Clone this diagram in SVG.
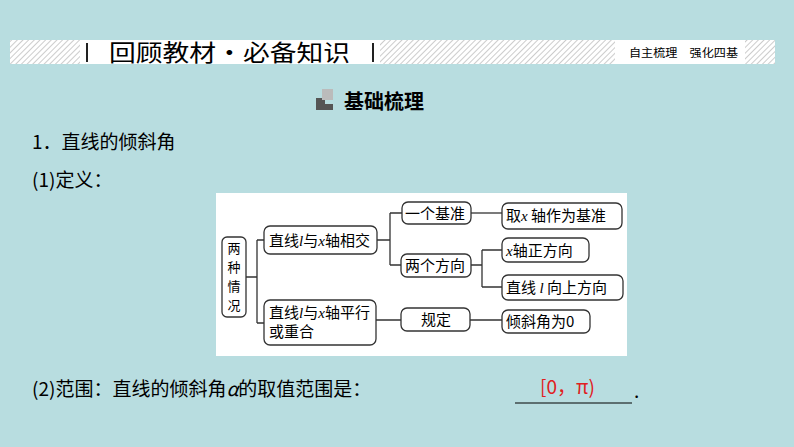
<svg xmlns="http://www.w3.org/2000/svg" width="794" height="447" viewBox="0 0 794 447">
<defs>
<pattern id="h" width="4" height="4" patternUnits="userSpaceOnUse" patternTransform="rotate(45)"><rect width="4" height="4" fill="#fff"/><line x1="0" y1="0" x2="0" y2="4" stroke="#bbb" stroke-width="1.5"/></pattern>
</defs>
<style>
text{font-family:"Noto Sans CJK SC","Liberation Serif",serif;fill:#000}
.n rect{fill:#fff;stroke:#333;stroke-width:1.3}
.n text{font-size:15px}
.c{fill:none;stroke:#333;stroke-width:1.3}
.b{font-size:19px}
</style>
<rect width="794" height="447" fill="#b8dde0"/>
<rect x="10" y="40" width="765" height="24" fill="url(#h)"/>
<rect x="80" y="40" width="300" height="24" fill="#fff"/>
<rect x="615" y="40" width="130" height="24" fill="#fff"/>
<rect x="86" y="43" width="2" height="19" fill="#222"/>
<rect x="372" y="43" width="2" height="19" fill="#222"/>
<text x="109" y="61" font-size="23" textLength="241" lengthAdjust="spacingAndGlyphs">回顾教材·必备知识</text>
<text x="629" y="57" font-size="11" textLength="109" lengthAdjust="spacingAndGlyphs">自主梳理　强化四基</text>
<rect x="316" y="98" width="9" height="11" fill="#555"/>
<rect x="322" y="89" width="11" height="11" fill="#bbb"/>
<rect x="316" y="104" width="17" height="6" fill="#555"/>
<text x="344" y="109" font-size="20" font-weight="bold">基础梳理</text>
<text x="32" y="149" class="b">1．直线的倾斜角</text>
<text x="32" y="187" class="b">(1)定义：</text>
<text x="32" y="396" class="b">(2)范围：直线的倾斜角<tspan font-style="italic">α</tspan>的取值范围是：</text>
<line x1="515" y1="403" x2="632" y2="403" stroke="#000" stroke-width="1"/>
<text x="540" y="394" font-size="19" style="fill:#e02020">[0，π)</text>
<text x="634" y="398" class="b">.</text>
<rect x="216" y="193" width="411" height="163" fill="#fff"/>
<g id="connectors" class="c">
<path d="M246 277H257M257 240V323M257 240H264M257 323H264"/>
<path d="M377 240H390M390 213V265M390 213H402M390 265H401"/>
<path d="M471 213H502"/>
<path d="M471 265H482M482 250V287M482 250H502M482 287H502"/>
<path d="M376 320H401M470 320H502"/>
</g>
<g id="n1" class="n"><rect x="222" y="237" width="24" height="80" rx="5"/><text x="227.5" y="253" style="font-size:13px">两</text><text x="227.5" y="272" style="font-size:13px">种</text><text x="227.5" y="291" style="font-size:13px">情</text><text x="227.5" y="310" style="font-size:13px">况</text></g>
<g id="n2" class="n"><rect x="264" y="226" width="113" height="28" rx="6"/><text x="269" y="246">直线<tspan font-style="italic" font-family="Liberation Serif">l</tspan>与<tspan font-style="italic" font-family="Liberation Serif">x</tspan>轴相交</text></g>
<g id="n3" class="n"><rect x="264" y="300" width="112" height="45" rx="6"/><text x="269" y="318">直线<tspan font-style="italic" font-family="Liberation Serif">l</tspan>与<tspan font-style="italic" font-family="Liberation Serif">x</tspan>轴平行</text><text x="269" y="337">或重合</text></g>
<g id="n4" class="n"><rect x="402" y="202" width="69" height="22" rx="6"/><text x="405" y="219">一个基准</text></g>
<g id="n5" class="n"><rect x="401" y="254" width="70" height="23" rx="6"/><text x="405" y="271">两个方向</text></g>
<g id="n6" class="n"><rect x="401" y="308" width="69" height="23" rx="6"/><text x="421" y="325">规定</text></g>
<g id="n7" class="n"><rect x="502" y="203" width="120" height="26" rx="6"/><text x="506" y="221">取<tspan font-style="italic" font-family="Liberation Serif">x</tspan> 轴作为基准</text></g>
<g id="n8" class="n"><rect x="502" y="238" width="87" height="24" rx="6"/><text x="506" y="256"><tspan font-style="italic" font-family="Liberation Serif">x</tspan>轴正方向</text></g>
<g id="n9" class="n"><rect x="502" y="275" width="121" height="25" rx="6"/><text x="506" y="293">直线 <tspan font-style="italic" font-family="Liberation Serif">l</tspan> 向上方向</text></g>
<g id="n10" class="n"><rect x="502" y="310" width="88" height="23" rx="6"/><text x="506" y="327">倾斜角为0</text></g>
</svg>
